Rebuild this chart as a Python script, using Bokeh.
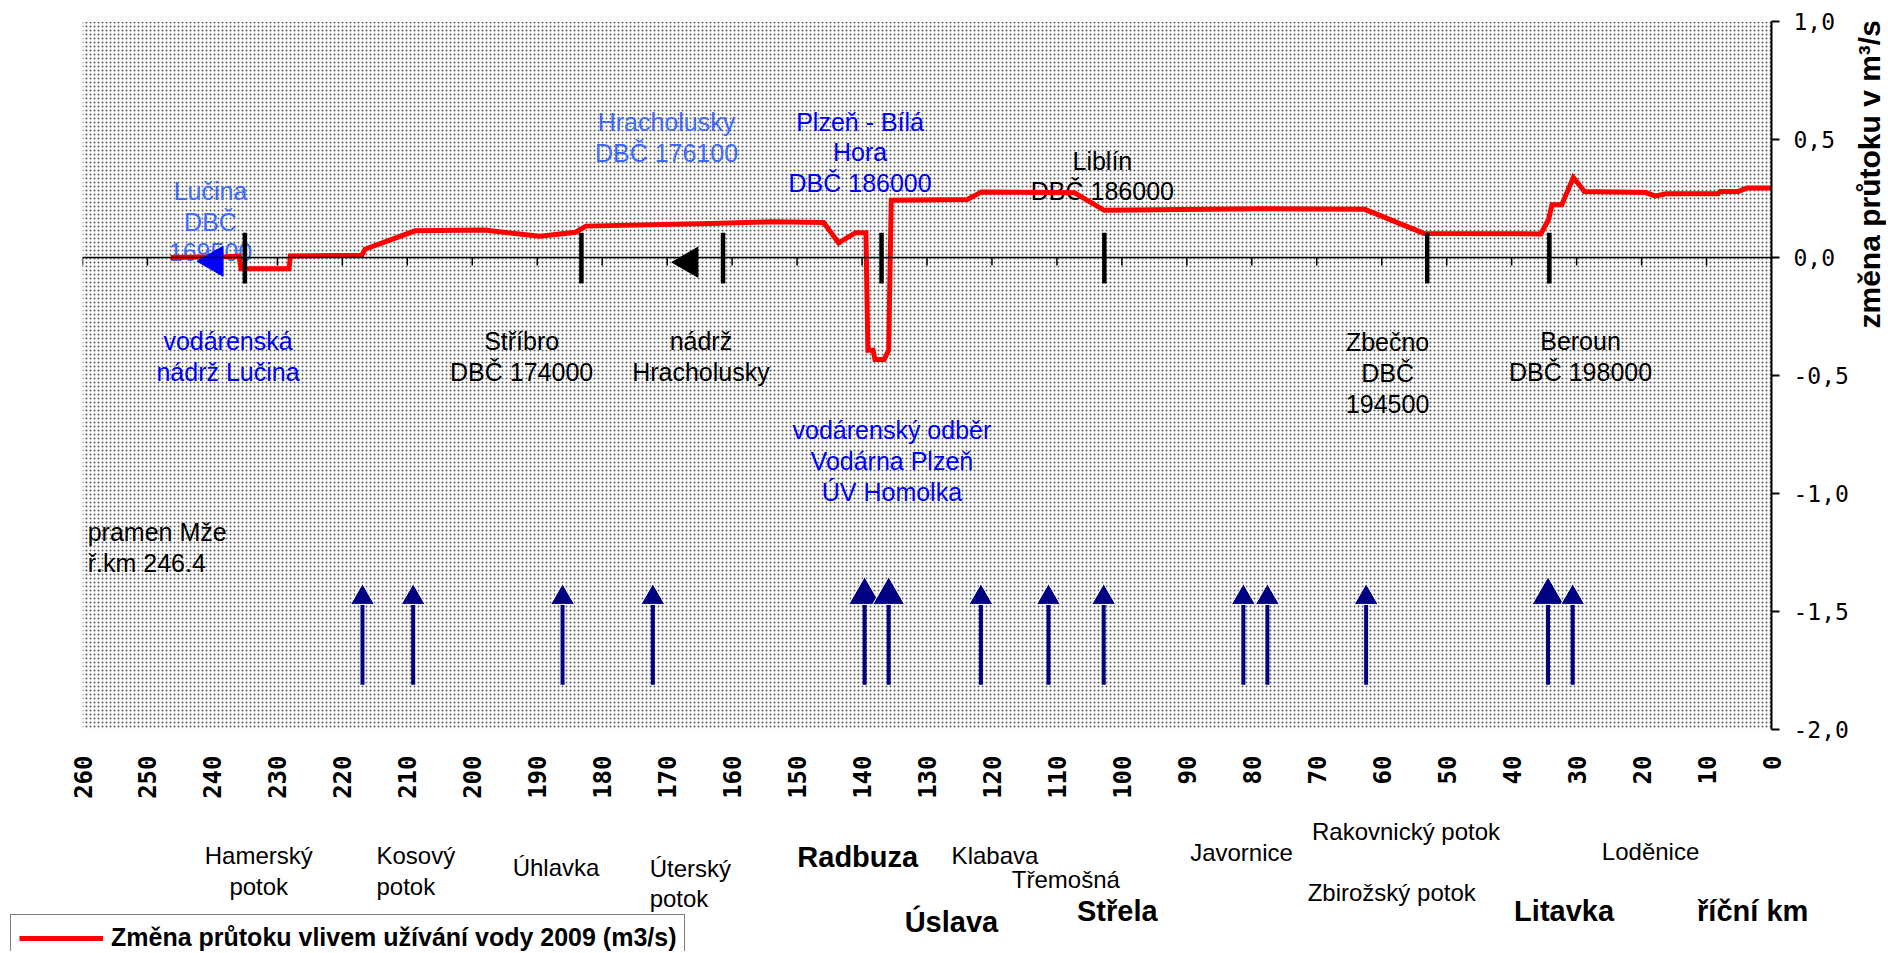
import math
from bokeh.plotting import figure
from bokeh.layouts import row, column
from bokeh.models import (Range1d, FixedTicker, BoxAnnotation, Span, ColumnDataSource,
                          Legend, LegendItem)
from bokeh.core.properties import value, field
from bokeh.embed import file_html
from bokeh.resources import INLINE

# ---------------- data ----------------
river_km = [246.4, 238.0, 235.9, 235.6, 228.2, 228.0, 217.0, 216.5, 208.8, 198.1,
            189.6, 184.1, 182.5, 163.4, 153.9, 145.9, 143.6, 141.0, 139.4, 139.1,
            138.3, 138.0, 136.6, 135.9, 135.5, 123.8, 121.6, 107.3, 102.7, 79.0,
            62.6, 53.5, 35.5, 34.3, 33.8, 32.3, 30.5, 28.8, 19.4, 17.9,
            16.2, 8.2, 7.9, 5.1, 3.8, 0.0]
flow_change = [0.0, 0.003, 0.006, -0.048, -0.048, 0.006, 0.01, 0.035, 0.113, 0.116,
               0.09, 0.107, 0.133, 0.144, 0.151, 0.148, 0.062, 0.105, 0.105, -0.393,
               -0.393, -0.432, -0.432, -0.393, 0.243, 0.246, 0.278, 0.274, 0.2, 0.207,
               0.204, 0.102, 0.1, 0.162, 0.223, 0.223, 0.339, 0.28, 0.275, 0.261,
               0.27, 0.27, 0.28, 0.28, 0.294, 0.294]

station_km = [235.0, 183.2, 161.4, 137.0, 102.7, 53.0, 34.2]
station_top = 0.105
station_bottom = -0.11

reservoir_km = [239.7, 166.6]
reservoir_val = [-0.016, -0.02]
reservoir_color = ["#0000ff", "#000000"]

tributary_km = [216.9, 209.1, 186.1, 172.2, 139.6, 135.9, 121.7, 111.3, 102.8,
                81.3, 77.6, 62.4, 34.4, 30.6]
tributary_major = [False, False, False, False, True, True, False, False, False,
                   False, False, False, True, False]
arrow_top = -1.47
arrow_bottom = -1.81

x_ticks = list(range(0, 261, 10))
y_ticks = [-2.0, -1.5, -1.0, -0.5, 0.0, 0.5, 1.0]
y_tick_labels = ["-2,0", "-1,5", "-1,0", "-0,5", "0,0", "0,5", "1,0"]

note_text = ["Lučina\nDBČ\n169500", "Hracholusky\nDBČ 176100", "Plzeň - Bílá\nHora\nDBČ 186000",
             "Liblín\nDBČ 186000", "vodárenská\nnádrž Lučina", "Stříbro\nDBČ 174000",
             "nádrž\nHracholusky", "Zbečno\nDBČ\n194500", "Beroun\nDBČ 198000",
             "vodárenský odběr\nVodárna Plzeň\nÚV Homolka", "pramen Mže\nř.km 246.4"]
note_km = [240.3, 170.1, 140.3, 103.0, 237.6, 192.4, 164.8, 59.1, 29.4, 135.4, 259.2]
note_val = [0.152, 0.51, 0.445, 0.345, -0.42, -0.42, -0.42, -0.49, -0.42, -0.862, -1.23]
LIGHT_BLUE = "#3f6bff"
note_color = [LIGHT_BLUE, LIGHT_BLUE, "#0000ff", "#000000", "#0000ff", "#000000",
              "#000000", "#000000", "#000000", "#0000ff", "#000000"]
note_align = ["center"] * 10 + ["left"]

trib_c_text = ["Hamerský\npotok", "Úhlavka", "Klabava", "Třemošná", "Javornice",
               "Rakovnický potok", "Zbirožský potok", "Loděnice"]
trib_c_km = [232.9, 187.2, 119.7, 108.8, 81.8, 56.5, 58.7, 18.9]
trib_c_val = [-2.6, -2.585, -2.534, -2.636, -2.521, -2.432, -2.69, -2.517]

trib_l_text = ["Kosový\npotok", "Úterský\npotok"]
trib_l_km = [214.8, 172.8]
trib_l_val = [-2.6, -2.652]

trib_b_text = ["Radbuza", "Úslava", "Střela", "Litavka", "říční km"]
trib_b_km = [140.8, 126.4, 100.9, 32.2, 3.2]
trib_b_val = [-2.542, -2.814, -2.771, -2.771, -2.771]

legend_label = "Změna průtoku vlivem užívání vody 2009 (m3/s)"
y_title = "změna průtoku v m³/s"
y_title_val = 0.35

# ---------------- layout constants ----------------
W, H = 1886, 951
MAIN_W, MAIN_H = 1851, 808
LEFT, TOP, FRAME_W, FRAME_H = 82, 21, 1691, 708
X_MAX, X_MIN, Y_MIN, Y_MAX = 260, 0, -2.0, 1.0
PX_PER_UNIT = FRAME_H / (Y_MAX - Y_MIN)
PX_PER_KM = FRAME_W / (X_MAX - X_MIN)
BOTTOM = MAIN_H - TOP - FRAME_H
RIGHT = MAIN_W - LEFT - FRAME_W

FONT = "Liberation Sans"

p = figure(width=MAIN_W, height=MAIN_H, x_range=Range1d(X_MAX, X_MIN), y_range=Range1d(Y_MIN, Y_MAX),
           output_backend="svg", toolbar_location=None, y_axis_location="right",
           min_border_left=LEFT, min_border_top=TOP, min_border_right=RIGHT, min_border_bottom=BOTTOM)
p.outline_line_color = None
p.grid.visible = False
p.background_fill_color = "white"
p.border_fill_color = "white"

# dotted background
p.add_layout(BoxAnnotation(fill_alpha=0, line_color=None, hatch_pattern="dot",
                           hatch_color="#404040", hatch_scale=4, hatch_weight=1.2,
                           hatch_alpha=0.9, level="underlay"))

# x axis (labels only, at bottom)
p.xaxis.ticker = FixedTicker(ticks=x_ticks)
p.xaxis.axis_line_color = None
p.xaxis.major_tick_line_color = None
p.xaxis.minor_tick_line_color = None
p.xaxis.major_label_orientation = math.pi / 2
p.xaxis.major_label_standoff = 20
p.xaxis.major_label_text_font = "DejaVu Sans Mono"
p.xaxis.major_label_text_font_style = "bold"
p.xaxis.major_label_text_font_size = "24px"
p.xaxis.major_label_text_color = "black"

# right y axis
p.yaxis.ticker = FixedTicker(ticks=y_ticks)
p.yaxis.major_label_overrides = {t: s for t, s in zip(y_ticks, y_tick_labels)}
p.yaxis.axis_line_color = "black"
p.yaxis.axis_line_width = 2
p.yaxis.major_tick_line_color = "black"
p.yaxis.major_tick_line_width = 2
p.yaxis.major_tick_out = 8
p.yaxis.major_tick_in = 0
p.yaxis.minor_tick_line_color = None
p.yaxis.major_label_standoff = 14
p.yaxis.major_label_text_font = "DejaVu Sans Mono"
p.yaxis.major_label_text_font_size = "23px"
p.yaxis.major_label_text_color = "black"

# zero line with small ticks
p.add_layout(Span(location=0, dimension="width", line_color="black", line_width=1.5))
zero_tick = 8 / PX_PER_UNIT
p.segment(x0=x_ticks, y0=[0] * len(x_ticks), x1=x_ticks, y1=[-zero_tick] * len(x_ticks),
          line_color="black", line_width=1.5)

# in-plot notes
notes = ColumnDataSource(dict(x=note_km, y=note_val, text=note_text, color=note_color, align=note_align))
p.text(x="x", y="y", text="text", source=notes, text_color="color", text_align=field("align"),
       text_baseline="middle", text_font=value(FONT), text_font_size="25px",
       text_line_height=1.1)

# flow change line
line_style = dict(line_color="#ff0000", line_width=5)
p.line(river_km, flow_change, line_join="miter", **line_style)

# gauging stations
p.segment(x0=station_km, y0=[station_bottom] * len(station_km), x1=station_km,
          y1=[station_top] * len(station_km), line_color="black", line_width=4.5)

# reservoirs
p.scatter(reservoir_km, reservoir_val, marker="triangle", size=30, angle=math.pi / 2,
          fill_color=reservoir_color, line_color=reservoir_color)

# tributary arrows
head_size = [32 if m else 24 for m in tributary_major]
head_y = [arrow_top + 0.289 * s / PX_PER_UNIT for s in head_size]
p.segment(x0=tributary_km, y0=[arrow_bottom] * len(tributary_km), x1=tributary_km,
          y1=[arrow_top] * len(tributary_km), line_color="#000080", line_width=4)
p.scatter(tributary_km, head_y, marker="triangle", size=head_size,
          fill_color="#000080", line_color="white", line_width=1)

# ---------------- right strip with the axis title ----------------
t = figure(width=W - MAIN_W, height=MAIN_H, x_range=Range1d(0, 1),
           y_range=Range1d(Y_MIN - BOTTOM / PX_PER_UNIT, Y_MAX + TOP / PX_PER_UNIT),
           output_backend="svg", toolbar_location=None, x_axis_type=None, y_axis_type=None,
           min_border=0)
t.outline_line_color = None
t.grid.visible = False
t.text(x=[0.5], y=[y_title_val], text=[y_title], angle=math.pi / 2, text_align="center",
       text_baseline="middle", text_font=value(FONT), text_font_style="bold",
       text_font_size="30px", text_color="black")

# ---------------- bottom strip with tributary names and legend ----------------
b_top = Y_MIN - BOTTOM / PX_PER_UNIT
b = figure(width=W, height=H - MAIN_H,
           x_range=Range1d(X_MAX + LEFT / PX_PER_KM, X_MIN - (W - LEFT - FRAME_W) / PX_PER_KM),
           y_range=Range1d(b_top - (H - MAIN_H) / PX_PER_UNIT, b_top),
           output_backend="svg", toolbar_location=None, x_axis_type=None, y_axis_type=None,
           min_border=0)
b.outline_line_color = None
b.grid.visible = False

common = dict(text_baseline="middle", text_font=value(FONT), text_color="black", text_line_height=1.12)
b.text(x=trib_c_km, y=trib_c_val, text=trib_c_text, text_align="center", text_font_size="24px", **common)
b.text(x=trib_l_km, y=trib_l_val, text=trib_l_text, text_align="left", text_font_size="24px", **common)
b.text(x=trib_b_km, y=trib_b_val, text=trib_b_text, text_align="center", text_font_size="29px",
       text_font_style="bold", **common)

# same series, drawn here only so that the legend below has its sample line
legend_r = b.line(river_km, flow_change, **line_style)
legend = Legend(items=[LegendItem(label=legend_label, renderers=[legend_r])],
                location=(10, -10), orientation="vertical")
legend.border_line_color = "black"
legend.border_line_width = 1.5
legend.background_fill_color = "white"
legend.background_fill_alpha = 1
legend.label_text_font = FONT
legend.label_text_font_style = "bold"
legend.label_text_font_size = "25px"
legend.label_text_color = "black"
legend.glyph_width = 84
legend.glyph_height = 24
legend.label_height = 24
legend.padding = 8
legend.margin = 0
legend.spacing = 0
legend.label_standoff = 8
b.add_layout(legend)

layout = column(row(p, t), b)
open("out.html", "w").write(file_html(layout, INLINE))
